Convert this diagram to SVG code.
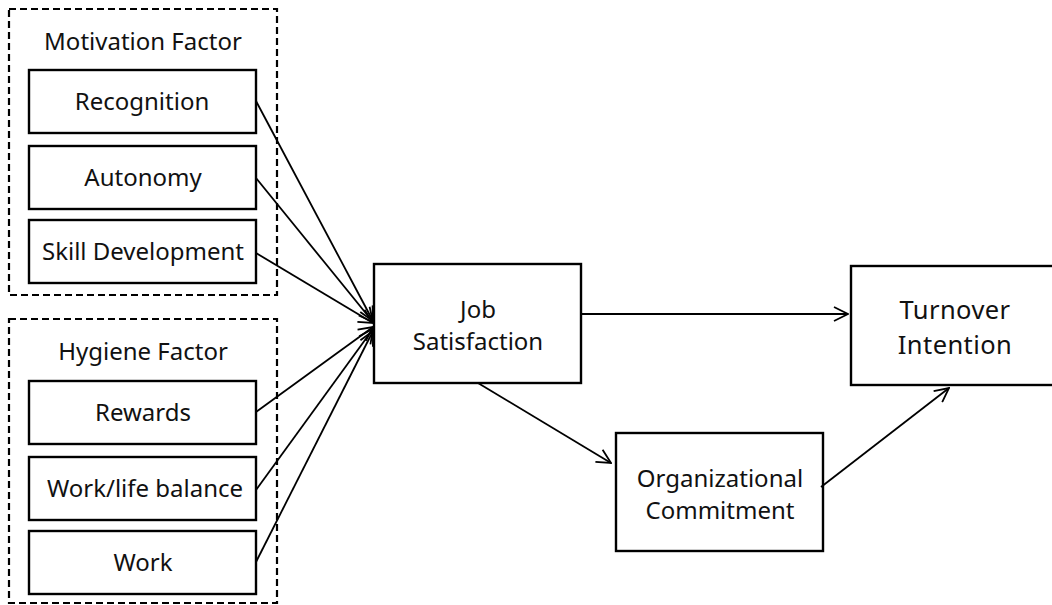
<svg xmlns="http://www.w3.org/2000/svg" width="1052" height="605" viewBox="0 0 1052 605">
  <style>
    .box { fill: #fff; stroke: #000; stroke-width: 2.4; }
    .group { fill: none; stroke: #000; stroke-width: 2.2; stroke-dasharray: 7 4; }
    text { font-family: "Noto Sans", "Open Sans", sans-serif; font-size: 24px; fill: #111; text-anchor: middle; }
    .big { font-size: 25.5px; letter-spacing: 0.4px; }
    .edge { stroke: #000; stroke-width: 1.8; fill: none; marker-end: url(#arrow); }
  </style>
  <defs>
    <marker id="arrow" markerWidth="16" markerHeight="16" refX="15" refY="8" orient="auto" markerUnits="userSpaceOnUse">
      <path d="M1,1 L15,8 L1,15" fill="none" stroke="#000" stroke-width="1.8"/>
    </marker>
  </defs>

  <rect width="1052" height="605" fill="#fff"/>

  <g id="motivation-factor">
    <rect class="group" x="9" y="9" width="268" height="286"/>
    <text x="143" y="50">Motivation Factor</text>
  </g>
  <g id="recognition">
    <rect class="box" x="29" y="70" width="227" height="63"/>
    <text x="142" y="110">Recognition</text>
  </g>
  <g id="autonomy">
    <rect class="box" x="29" y="146" width="227" height="63"/>
    <text x="143" y="186">Autonomy</text>
  </g>
  <g id="skill-development">
    <rect class="box" x="29" y="220" width="227" height="63"/>
    <text x="143" y="260">Skill Development</text>
  </g>

  <g id="hygiene-factor">
    <rect class="group" x="9" y="319" width="268" height="284"/>
    <text x="143" y="360">Hygiene Factor</text>
  </g>
  <g id="rewards">
    <rect class="box" x="29" y="381" width="227" height="63"/>
    <text x="143" y="421">Rewards</text>
  </g>
  <g id="work-life-balance">
    <rect class="box" x="29" y="457" width="227" height="63"/>
    <text x="145" y="497">Work/life balance</text>
  </g>
  <g id="work">
    <rect class="box" x="29" y="531" width="227" height="63"/>
    <text x="143" y="571">Work</text>
  </g>

  <g id="job-satisfaction">
    <rect class="box" x="374" y="264" width="207" height="119"/>
    <text x="478" y="318">Job</text>
    <text x="478" y="350">Satisfaction</text>
  </g>

  <g id="turnover-intention">
    <rect class="box" x="851" y="266" width="210" height="119"/>
    <text class="big" x="955" y="319">Turnover</text>
    <text class="big" x="955" y="354">Intention</text>
  </g>

  <g id="organizational-commitment">
    <rect class="box" x="616" y="433" width="207" height="118"/>
    <text x="720" y="487">Organizational</text>
    <text x="720" y="519">Commitment</text>
  </g>

  <g id="connectors">
    <line class="edge" x1="256" y1="101" x2="373" y2="321"/>
    <line class="edge" x1="256" y1="178" x2="373" y2="322"/>
    <line class="edge" x1="256" y1="253" x2="373" y2="323"/>
    <line class="edge" x1="256" y1="412" x2="373" y2="327"/>
    <line class="edge" x1="256" y1="490" x2="373" y2="329"/>
    <line class="edge" x1="256" y1="562" x2="373" y2="331"/>
    <line class="edge" x1="581" y1="314" x2="848" y2="314"/>
    <line class="edge" x1="478" y1="383" x2="611" y2="463"/>
    <line class="edge" x1="821" y1="487" x2="949" y2="388"/>
  </g>
</svg>
